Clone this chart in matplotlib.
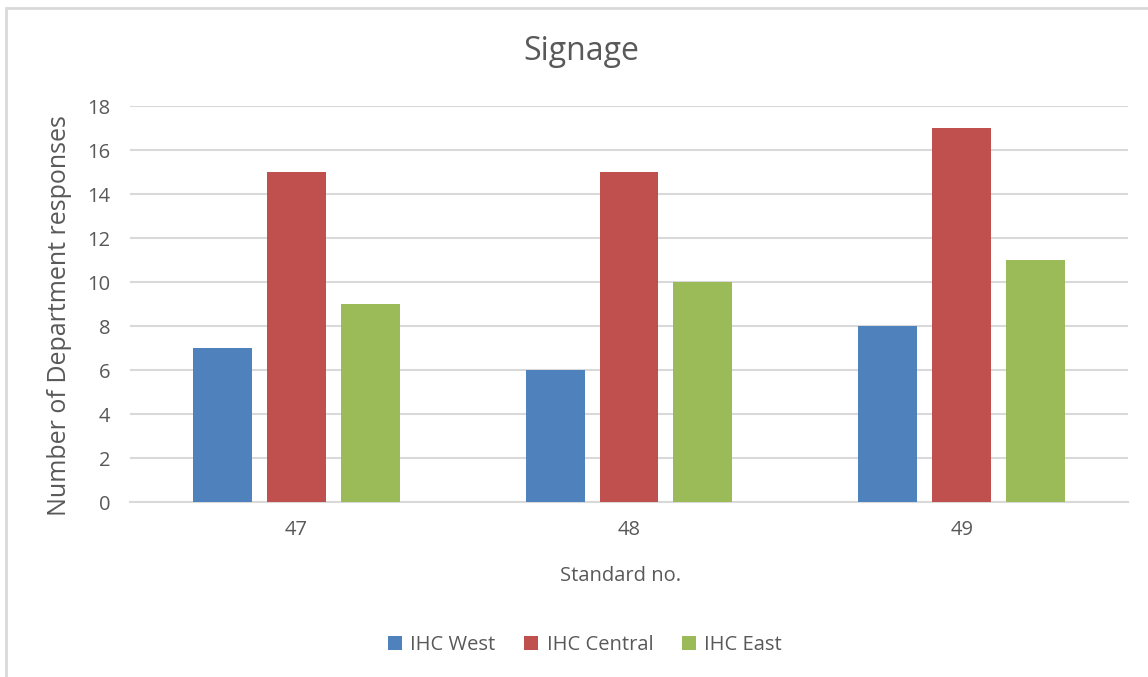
import numpy as np
import matplotlib.pyplot as plt
from matplotlib.patches import Rectangle

# data
standards = ['47', '48', '49']
series = ['IHC West', 'IHC Central', 'IHC East']
west = [7, 6, 8]
central = [15, 15, 17]
east = [9, 10, 11]
colors = ['#4F81BD', '#C0504D', '#9BBB59']

plt.rcParams['font.family'] = ['Open Sans', 'DejaVu Sans']
txt = '#595959'

W, H = 1148, 677
fig = plt.figure(figsize=(W / 100, H / 100), dpi=100)
ax = fig.add_axes([130 / W, 1 - 502 / H, 998 / W, 396 / H])

# chart border (light gray)
fig.patches.append(Rectangle((6 / W, -0.05), 1.2, 1 - 8 / H + 0.05,
                             transform=fig.transFigure, fill=False,
                             edgecolor='#D9D9D9', linewidth=2))

x = np.arange(len(standards))
bw = 0.177
step = 0.222
for i, (vals, name) in enumerate(zip([west, central, east], series)):
    ax.bar(x + (i - 1) * step, vals, bw, color=colors[i], label=name, zorder=3)

ax.set_xlim(-0.5, 2.5)
ax.set_ylim(0, 18)
ax.set_yticks(range(0, 19, 2))
ax.set_xticks(x)
ax.set_xticklabels(standards)
ax.grid(axis='y', color='#D9D9D9', linewidth=1.5, zorder=0)
for s in ['top', 'right', 'left']:
    ax.spines[s].set_visible(False)
ax.spines['bottom'].set_color('#D9D9D9')
ax.spines['bottom'].set_linewidth(1.5)
ax.tick_params(length=0, colors=txt, labelsize=14.5)
ax.tick_params(axis='x', pad=13)
ax.tick_params(axis='y', pad=14)

fig.text(581 / W, 1 - 52 / H, 'Signage', ha='center', va='center', fontsize=23, color=txt)
fig.text(60 / W, 1 - 316 / H, 'Number of Department responses', ha='center', va='center',
         rotation=90, fontsize=18, color=txt)
fig.text(621 / W, 1 - 576 / H, 'Standard no.', ha='center', va='center', fontsize=14.5, color=txt)

leg = fig.legend(loc='center', bbox_to_anchor=(585 / W, 1 - 645 / H), ncol=3, frameon=False,
                 fontsize=14.5, handlelength=0.7, handleheight=0.7, columnspacing=1.45,
                 handletextpad=0.4)
for t in leg.get_texts():
    t.set_color(txt)

fig.savefig('out.png', dpi=100)
